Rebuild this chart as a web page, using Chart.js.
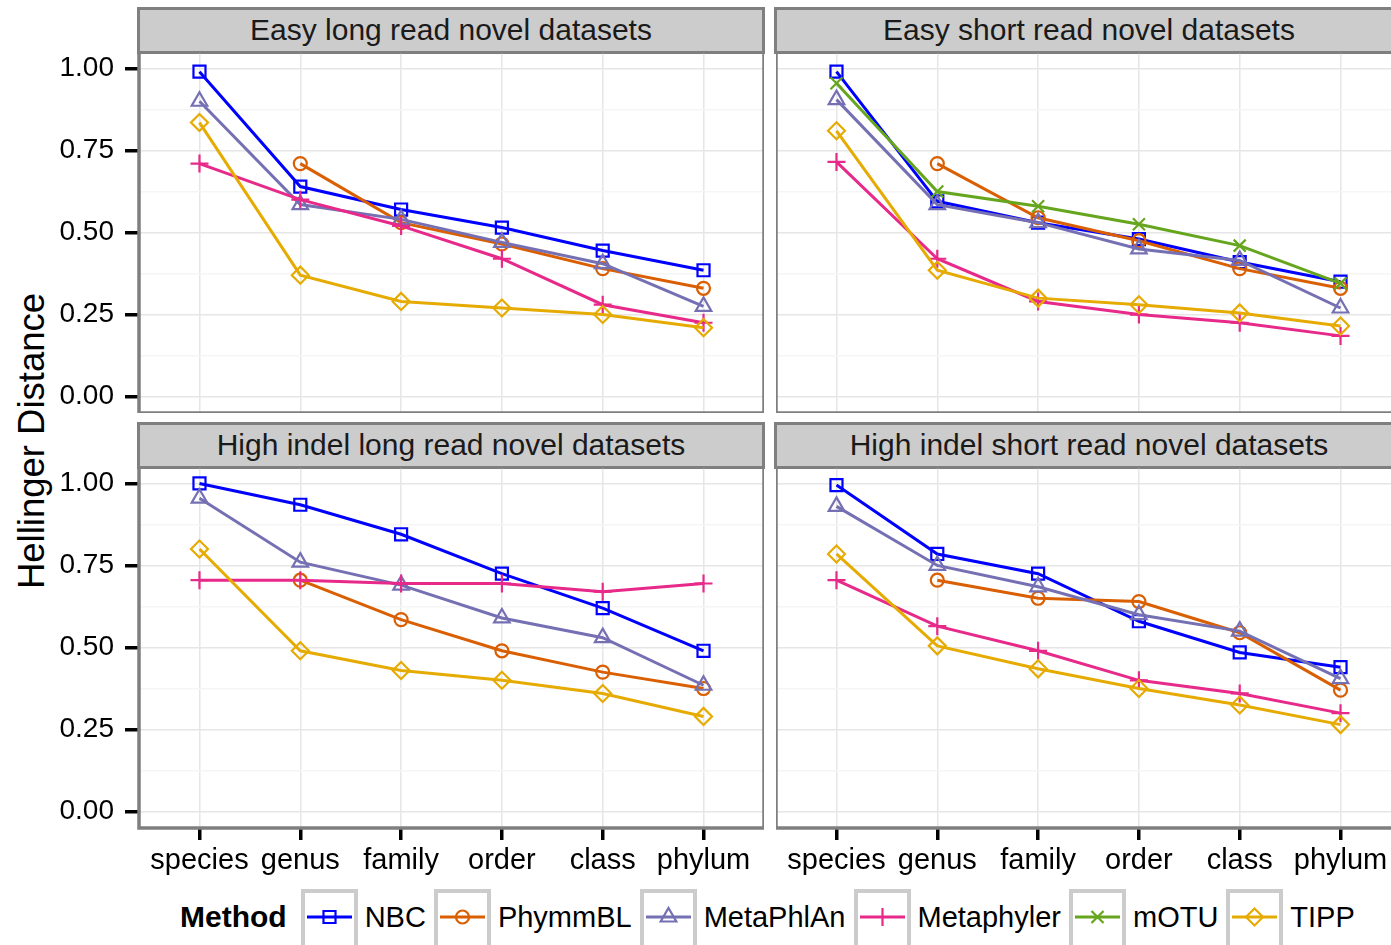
<!DOCTYPE html>
<html>
<head>
<meta charset="utf-8">
<script src="https://cdn.jsdelivr.net/npm/chart.js@4"></script>
<style>
  html, body { margin: 0; padding: 0; background: #fff; width: 1391px; height: 945px; overflow: hidden; position: relative;
    font-family: "Liberation Sans", Arial, Helvetica, sans-serif; }
  canvas { position: absolute; }
  .strip { position: absolute; box-sizing: border-box; background: #cccccc; border: 3px solid #7f7f7f;
    font-size: 30px; text-align: center; line-height: 39px; color: #1a1a1a; white-space: nowrap; overflow: hidden; }
  .ytitle { position: absolute; left: 32px; top: 441px; transform: translate(-50%, -50%) rotate(-90deg);
    font-size: 36.5px; white-space: nowrap; }
  #legend { position: absolute; left: 180px; top: 889px; height: 64px; display: flex; align-items: flex-start; font-size: 29px; }
  #legend .title { font-weight: bold; font-size: 30px; line-height: 56px; margin-right: 14px; }
  #legend .key { box-sizing: border-box; width: 57px; height: 64px; border: 4px solid #cccccc; margin-right: 7px; position: relative; }
  #legend .key canvas { left: 0; top: 0; }
  #legend .lab { line-height: 56px; margin-right: 8px; }
</style>
</head>
<body>
<div class="strip" style="left:137px;top:7px;width:628px;height:47px">Easy long read novel datasets</div>
<div class="strip" style="left:774px;top:7px;width:630px;height:47px">Easy short read novel datasets</div>
<div class="strip" style="left:137px;top:422px;width:628px;height:47px">High indel long read novel datasets</div>
<div class="strip" style="left:774px;top:422px;width:630px;height:47px">High indel short read novel datasets</div>
<div class="ytitle">Hellinger Distance</div>

<canvas id="tl" width="764" height="361" style="left:0;top:52px"></canvas>
<canvas id="tr" width="625" height="361" style="left:776px;top:52px"></canvas>
<canvas id="bl" width="764" height="421" style="left:0;top:467px"></canvas>
<canvas id="br" width="625" height="421" style="left:776px;top:467px"></canvas>

<div id="legend"><div class="title">Method</div></div>

<script>
const levels = ['species', 'genus', 'family', 'order', 'class', 'phylum'];
const methods = ['NBC', 'PhymmBL', 'MetaPhlAn', 'Metaphyler', 'mOTU', 'TIPP'];
const yTicks = [0, 0.25, 0.5, 0.75, 1];
const yMinor = [0.125, 0.375, 0.625, 0.875];

// Easy long read
const easyLongNBC        = [0.99, 0.64, 0.57, 0.515, 0.445, 0.385];
const easyLongPhymmBL    = [null, 0.71, 0.53, 0.465, 0.39, 0.33];
const easyLongMetaPhlAn  = [0.90, 0.585, 0.54, 0.47, 0.405, 0.275];
const easyLongMetaphyler = [0.71, 0.60, 0.52, 0.42, 0.28, 0.225];
const easyLongTIPP       = [0.835, 0.37, 0.29, 0.27, 0.25, 0.21];

// Easy short read
const easyShortNBC        = [0.99, 0.595, 0.53, 0.48, 0.41, 0.35];
const easyShortPhymmBL    = [null, 0.71, 0.545, 0.475, 0.39, 0.33];
const easyShortMetaPhlAn  = [0.905, 0.585, 0.53, 0.45, 0.415, 0.27];
const easyShortMetaphyler = [0.715, 0.42, 0.29, 0.25, 0.225, 0.185];
const easyShortMOTU       = [0.955, 0.625, 0.58, 0.525, 0.46, 0.345];
const easyShortTIPP       = [0.81, 0.385, 0.30, 0.28, 0.255, 0.215];

// High indel long read
const indelLongNBC        = [1.0, 0.935, 0.845, 0.725, 0.62, 0.49];
const indelLongPhymmBL    = [null, 0.705, 0.585, 0.49, 0.425, 0.375];
const indelLongMetaPhlAn  = [0.955, 0.76, 0.69, 0.59, 0.53, 0.385];
const indelLongMetaphyler = [0.705, 0.705, 0.695, 0.695, 0.67, 0.695];
const indelLongTIPP       = [0.80, 0.49, 0.43, 0.40, 0.36, 0.29];

// High indel short read
const indelShortNBC        = [0.995, 0.785, 0.725, 0.58, 0.485, 0.44];
const indelShortPhymmBL    = [null, 0.705, 0.65, 0.64, 0.545, 0.37];
const indelShortMetaPhlAn  = [0.93, 0.75, 0.685, 0.60, 0.55, 0.405];
const indelShortMetaphyler = [0.705, 0.565, 0.49, 0.40, 0.36, 0.30];
const indelShortTIPP       = [0.785, 0.505, 0.435, 0.375, 0.325, 0.265];

const colors = { NBC: '#0000ff', PhymmBL: '#d95f02', MetaPhlAn: '#7570b3', Metaphyler: '#e7298a', mOTU: '#66a61e', TIPP: '#e6ab02' };
const shapes = { NBC: 'rect', PhymmBL: 'circle', MetaPhlAn: 'triangle', Metaphyler: 'cross', mOTU: 'crossRot', TIPP: 'rectRot' };
const radii  = { NBC: 8.5, PhymmBL: 6.5, MetaPhlAn: 9, Metaphyler: 9, mOTU: 8.5, TIPP: 8.5 };

const font = { family: '"Liberation Sans", Arial, sans-serif' };
const gridValues = yTicks.concat(yMinor).sort((a, b) => a - b);
const isMajor = v => yTicks.some(t => Math.abs(t - v) < 1e-9);

// no extra room around the plot area: the panels are placed by hand
function noPadding(s) {
  s.paddingTop = 0; s.paddingBottom = 0; s.paddingLeft = 0; s.paddingRight = 0;
}

const panelBorder = {
  id: 'panelBorder',
  afterDraw(chart) {
    const a = chart.chartArea, ctx = chart.ctx;
    ctx.save();
    ctx.strokeStyle = '#7f7f7f';
    ctx.lineWidth = 3.5;
    ctx.strokeRect(a.left, a.top, a.right - a.left, a.bottom - a.top);
    ctx.restore();
  }
};

function makePanel(id, series, showY, showX) {
  const datasets = [];
  methods.forEach((m, i) => {
    if (!series[m]) return;
    datasets.push({
      label: m,
      data: series[m].map((v, j) => ({ x: j, y: v })),
      borderColor: colors[m],
      backgroundColor: colors[m],
      borderWidth: 3,
      pointStyle: shapes[m],
      pointRadius: radii[m],
      pointBorderWidth: 2.2,
      pointBorderColor: colors[m],
      pointBackgroundColor: 'rgba(0,0,0,0)',
      order: methods.length - i
    });
  });

  new Chart(document.getElementById(id), {
    type: 'line',
    data: { datasets },
    plugins: [panelBorder],
    options: {
      responsive: false,
      animation: false,
      devicePixelRatio: 1,
      events: [],
      layout: { padding: 0, autoPadding: false },
      plugins: { legend: { display: false }, tooltip: { enabled: false } },
      scales: {
        x: {
          type: 'linear', min: -0.6, max: 5.6,
          afterBuildTicks: s => { s.ticks = levels.map((_, i) => ({ value: i })); },
          afterFit: s => { s.height = showX ? 60 : 0; noPadding(s); },
          border: { display: false },
          grid: { color: '#e6e6e6', lineWidth: 1.5, drawTicks: showX, tickLength: 12, tickColor: '#000', tickWidth: 3.5 },
          ticks: { display: showX, autoSkip: false, maxRotation: 0, padding: 4, color: '#000',
            font: Object.assign({ size: 29 }, font), callback: v => levels[v] || '' }
        },
        y: {
          min: -0.05, max: 1.05,
          afterBuildTicks: s => { s.ticks = gridValues.map(v => ({ value: v })); },
          afterFit: s => { s.width = showY ? 139 : 0; noPadding(s); },
          border: { display: false },
          grid: {
            color: c => isMajor(c.tick.value) ? '#e6e6e6' : '#f5f5f5',
            lineWidth: 1.5, drawTicks: showY, tickLength: 14, tickWidth: 3.5,
            tickColor: c => isMajor(c.tick.value) ? '#000' : 'rgba(0,0,0,0)'
          },
          ticks: { display: showY, padding: 11, color: '#000', font: Object.assign({ size: 28 }, font),
            callback: v => isMajor(v) ? v.toFixed(2) : '' }
        }
      }
    }
  });
}

makePanel('tl', { NBC: easyLongNBC, PhymmBL: easyLongPhymmBL, MetaPhlAn: easyLongMetaPhlAn,
  Metaphyler: easyLongMetaphyler, TIPP: easyLongTIPP }, true, false);
makePanel('tr', { NBC: easyShortNBC, PhymmBL: easyShortPhymmBL, MetaPhlAn: easyShortMetaPhlAn,
  Metaphyler: easyShortMetaphyler, mOTU: easyShortMOTU, TIPP: easyShortTIPP }, false, false);
makePanel('bl', { NBC: indelLongNBC, PhymmBL: indelLongPhymmBL, MetaPhlAn: indelLongMetaPhlAn,
  Metaphyler: indelLongMetaphyler, TIPP: indelLongTIPP }, true, true);
makePanel('br', { NBC: indelShortNBC, PhymmBL: indelShortPhymmBL, MetaPhlAn: indelShortMetaPhlAn,
  Metaphyler: indelShortMetaphyler, TIPP: indelShortTIPP }, false, true);

// shared legend
function drawMarker(ctx, style, x, y, r) {
  ctx.beginPath();
  if (style === 'rect') {
    const s = r * Math.SQRT1_2;
    ctx.rect(x - s, y - s, 2 * s, 2 * s);
  } else if (style === 'circle') {
    ctx.arc(x, y, r, 0, Math.PI * 2);
  } else if (style === 'triangle') {
    for (let k = 0; k < 3; k++) {
      const a = -Math.PI / 2 + k * 2 * Math.PI / 3;
      k ? ctx.lineTo(x + r * Math.cos(a), y + r * Math.sin(a)) : ctx.moveTo(x + r * Math.cos(a), y + r * Math.sin(a));
    }
    ctx.closePath();
  } else if (style === 'cross') {
    ctx.moveTo(x - r, y); ctx.lineTo(x + r, y);
    ctx.moveTo(x, y - r); ctx.lineTo(x, y + r);
  } else if (style === 'crossRot') {
    const s = r * Math.SQRT1_2;
    ctx.moveTo(x - s, y - s); ctx.lineTo(x + s, y + s);
    ctx.moveTo(x - s, y + s); ctx.lineTo(x + s, y - s);
  } else if (style === 'rectRot') {
    ctx.moveTo(x, y - r); ctx.lineTo(x + r, y); ctx.lineTo(x, y + r); ctx.lineTo(x - r, y);
    ctx.closePath();
  }
  ctx.stroke();
}

const legend = document.getElementById('legend');
methods.forEach(m => {
  const key = document.createElement('div');
  key.className = 'key';
  const cv = document.createElement('canvas');
  cv.width = 49; cv.height = 56;
  key.appendChild(cv);
  legend.appendChild(key);
  const ctx = cv.getContext('2d');
  ctx.strokeStyle = colors[m];
  ctx.lineWidth = 3;
  ctx.beginPath(); ctx.moveTo(2, 24); ctx.lineTo(47, 24); ctx.stroke();
  ctx.lineWidth = 2.2;
  drawMarker(ctx, shapes[m], 24.5, 24, radii[m]);
  const lab = document.createElement('div');
  lab.className = 'lab';
  lab.textContent = m;
  legend.appendChild(lab);
});
</script>
</body>
</html>
